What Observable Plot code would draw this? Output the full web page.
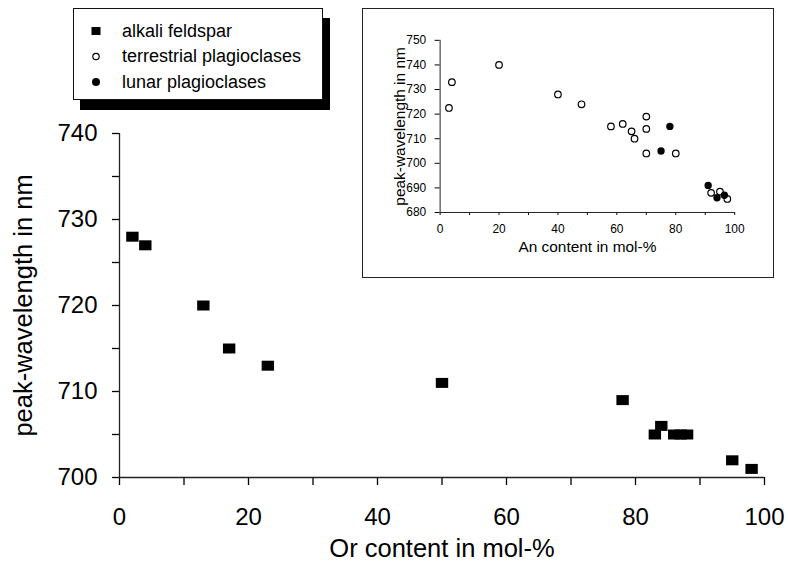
<!DOCTYPE html>
<html><head><meta charset="utf-8">
<script src="https://cdn.jsdelivr.net/npm/d3@7"></script>
<script src="https://cdn.jsdelivr.net/npm/@observablehq/plot@0.6"></script>
<style>
body{margin:0;background:#fff;}
#wrap{position:relative;width:788px;height:573px;overflow:hidden;font-family:"Liberation Sans",Arial,sans-serif;background:#fff;}
#main{position:absolute;left:0;top:0;}
#inset{position:absolute;left:362px;top:8px;width:412px;height:270px;box-sizing:border-box;border:1.6px solid #222;background:#fff;}
#inset svg{position:absolute;left:-1.6px;top:-1.6px;}
#legend{position:absolute;left:73px;top:8px;width:250px;height:92px;box-sizing:border-box;border:1.5px solid #111;background:#fff;box-shadow:7px 10px 0 0 #000;}
#legend svg{position:absolute;left:-1.5px;top:-1.5px;}
</style></head>
<body><div id="wrap"><div id="main"></div><div id="legend"></div><div id="inset"></div></div>
<script>
// Main chart: alkali feldspar
const alkaliOr   = [2, 4, 13, 17, 23, 50, 78, 83, 84, 86, 87, 88, 95, 98];
const alkaliPeak = [728, 727, 720, 715, 713, 711, 709, 705, 706, 705, 705, 705, 702, 701];
// Inset: terrestrial plagioclases
const terrAn   = [3, 4, 20, 40, 48, 58, 62, 65, 66, 70, 70, 70, 80, 92, 95, 97.5];
const terrPeak = [722.5, 733, 740, 728, 724, 715, 716, 713, 710, 719, 714, 704, 704, 688, 688.5, 685.5];
// Inset: lunar plagioclases
const lunarAn   = [78, 75, 91, 94, 96.5];
const lunarPeak = [715, 705, 691, 686, 687];
// Texts
const legendLabels = ["alkali feldspar", "terrestrial plagioclases", "lunar plagioclases"];
const mainXTitle = "Or content in mol-%";
const mainYTitle = "peak-wavelength in nm";
const insetXTitle = "An content in mol-%";
const insetYTitle = "peak-wavelength in nm";
const mainXTicks = [0, 10, 20, 30, 40, 50, 60, 70, 80, 90, 100];
const mainYTicks = [700, 705, 710, 715, 720, 725, 730, 735, 740];
const insetXTicks = [0, 10, 20, 30, 40, 50, 60, 70, 80, 90, 100];
const insetYTicks = [680, 690, 700, 710, 720, 730, 740, 750];

const FONT = '"Liberation Sans", Arial, sans-serif';
const alkali = alkaliOr.map((x, i) => ({x, y: alkaliPeak[i]}));
const terr = terrAn.map((x, i) => ({x, y: terrPeak[i]}));
const lunar = lunarAn.map((x, i) => ({x, y: lunarPeak[i]}));

const rectSymbol = {draw(ctx) { const w = 6.2, h = 5; ctx.moveTo(-w, -h); ctx.lineTo(w, -h); ctx.lineTo(w, h); ctx.lineTo(-w, h); ctx.closePath(); }};

const main = Plot.plot({
  width: 788, height: 573,
  marginLeft: 119, marginRight: 24, marginTop: 133, marginBottom: 96,
  style: {fontFamily: FONT, fontSize: "24px", color: "#000", background: "transparent", overflow: "visible"},
  x: {domain: [0, 100]},
  y: {domain: [700, 740]},
  marks: [
    Plot.axisX({ticks: mainXTicks, tickFormat: d => d % 20 === 0 ? String(d) : "", tickSize: 8, tickPadding: 22, label: null, strokeWidth: 1.3, fontSize: 24}),
    Plot.axisY({ticks: mainYTicks, tickFormat: d => d % 10 === 0 ? String(d) : "", tickSize: 7, tickPadding: 15, label: null, strokeWidth: 1.3, fontSize: 24}),
    Plot.ruleX([0], {stroke: "#222", strokeWidth: 1.3}),
    Plot.ruleY([700], {stroke: "#222", strokeWidth: 1.3}),
    Plot.dot(alkali, {x: "x", y: "y", symbol: rectSymbol, r: 6, fill: "#000", stroke: "none"}),
    Plot.text([mainXTitle], {frameAnchor: "bottom", dy: 79, fontSize: 25.5, fill: "#000"}),
    Plot.text([mainYTitle], {frameAnchor: "left", textAnchor: "middle", dx: -96, rotate: -90, fontSize: 25.5, fill: "#000"})
  ]
});
document.getElementById("main").appendChild(main);

const inset = Plot.plot({
  width: 412, height: 270,
  marginLeft: 79, marginRight: 37, marginTop: 33, marginBottom: 64,
  style: {fontFamily: FONT, fontSize: "12px", color: "#000", background: "transparent", overflow: "visible"},
  x: {domain: [0, 100]},
  y: {domain: [680, 750]},
  marks: [
    Plot.axisX({ticks: insetXTicks, tickFormat: d => d % 20 === 0 ? String(d) : "", tickSize: 3, tickPadding: 9, label: null, fontSize: 12}),
    Plot.axisY({ticks: insetYTicks, tickSize: 5, tickPadding: 9, label: null, fontSize: 12}),
    Plot.ruleX([0], {stroke: "#222"}),
    Plot.ruleY([680], {stroke: "#222"}),
    Plot.dot(terr, {x: "x", y: "y", r: 3.3, stroke: "#000", fill: "#fff", strokeWidth: 1.2}),
    Plot.dot(lunar, {x: "x", y: "y", r: 3.7, fill: "#000", stroke: "none"}),
    Plot.text([insetXTitle], {frameAnchor: "bottom", dy: 40, fontSize: 15.5, fill: "#000"}),
    Plot.text([insetYTitle], {frameAnchor: "left", textAnchor: "middle", dx: -40, rotate: -90, fontSize: 15.5, fill: "#000"})
  ]
});
document.getElementById("inset").appendChild(inset);

// Legend
const lg = d3.select("#legend").append("svg").attr("width", 250).attr("height", 92)
  .style("font-family", FONT);
const rowsY = [23, 48.5, 74];
lg.append("rect").attr("x", 23 - 4.5).attr("y", rowsY[0] - 4).attr("width", 9).attr("height", 8).attr("fill", "#000");
lg.append("circle").attr("cx", 23).attr("cy", rowsY[1]).attr("r", 3.2).attr("fill", "#fff").attr("stroke", "#000").attr("stroke-width", 1.2);
lg.append("circle").attr("cx", 23).attr("cy", rowsY[2]).attr("r", 4).attr("fill", "#000");
legendLabels.forEach((t, i) => {
  lg.append("text").attr("x", 49).attr("y", rowsY[i] + 5.5).attr("font-size", 18).attr("fill", "#000").text(t);
});
</script>
</body></html>
